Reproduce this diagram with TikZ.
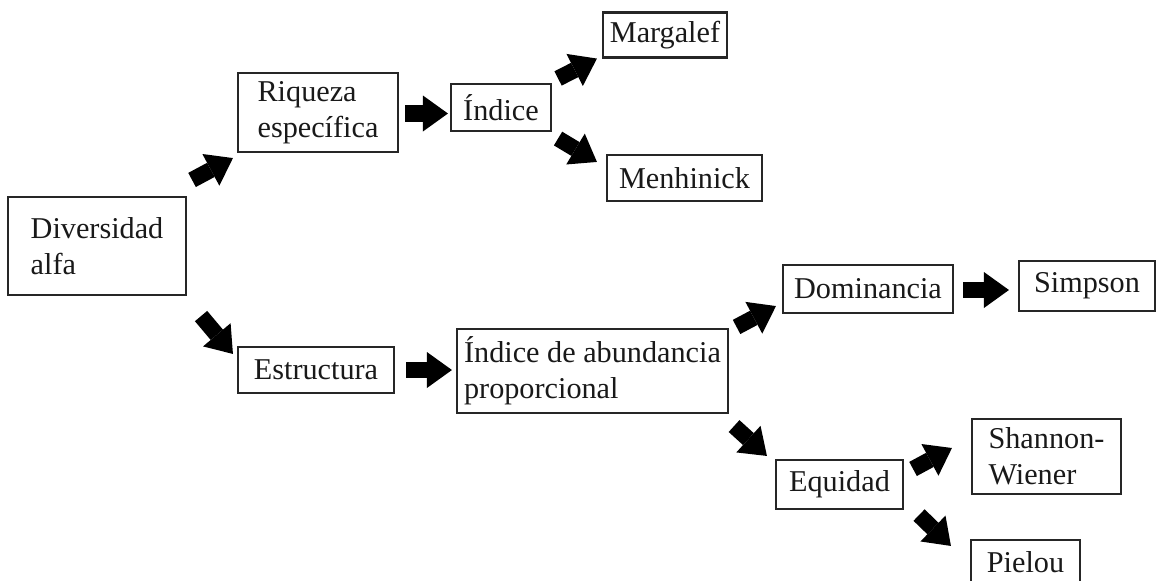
\documentclass[tikz,border=0pt]{standalone}
\usepackage{fontspec}
\setmainfont{Liberation Serif}
\usetikzlibrary{arrows.meta, calc}
\newcommand\bildbreite{1159}
\newcommand\bildhoehe{580}
\newcommand\pixel{0.025cm}

\begin{document}
\begin{tikzpicture}[x = \pixel, y = \pixel, yscale = -1,
	kasten/.style 2 args = {draw = black!85, line width = 1.5pt, inner sep = 2pt, align = left,
		text = black!90, font = \fontsize{21.5pt}{25.5pt}\selectfont,
		minimum width = #1*\pixel, minimum height = #2*\pixel},
	pfeil/.style = {line width = 11.4pt, -{Triangle[length = 17.8pt, width = 25.6pt, line width = 0pt]}}]
	\useasboundingbox (0, 0) rectangle (\bildbreite, \bildhoehe);

	% Kästen:
	\node [kasten = {178}{98}] (diversidad) at (97, 246) {Diversidad\\alfa};
	\node [kasten = {160}{79}] (riqueza) at (318, 112.5) {Riqueza\\específica};
	\node [kasten = {100}{47}] (indice) at (501, 107.5) {Índice};
	\node [kasten = {124}{45}] (margalef) at (665, 35) {Margalef};
	\node [kasten = {155}{46}] (menhinick) at (684.5, 178) {Menhinick};
	\node [kasten = {156}{46}] (estructura) at (316, 370) {Estructura};
	\node [kasten = {271}{84}] (abundancia) at (592.5, 371) {Índice de abundancia\\proporcional};
	\node [kasten = {170}{48}] (dominancia) at (868, 289) {Dominancia};
	\node [kasten = {136}{50}] (simpson) at (1087, 286) {Simpson};
	\node [kasten = {127}{49}] (equidad) at (839.5, 484.5) {Equidad};
	\node [kasten = {149}{75}] (shannon) at (1046.5, 456.5) {Shannon-\\Wiener};
	\node [kasten = {109}{44}] (pielou) at (1025.5, 562) {Pielou};

	% Pfeile, Versatz von Hand eingestellt
	\draw [pfeil] ($(diversidad.north east) + (5, -16)$) -- ($(riqueza.south west) + (-4, 5)$);
	\draw [pfeil] ($(diversidad.south east) + (14, 20)$) -- ($(estructura.north west) + (-4, 8)$);
	\draw [pfeil] ($(riqueza.east) + (6, 1)$) -- ($(riqueza.east -| indice.west) + (-2, 1)$);
	\draw [pfeil] ($(indice.north east) + (6, -4.5)$) -- ($(margalef.south west) + (-5, 0)$);
	\draw [pfeil] ($(indice.south east) + (6, 6.5)$) -- ($(menhinick.north west) + (-9, 8)$);
	\draw [pfeil] ($(estructura.east) + (11, 0)$) -- ($(estructura.east -| abundancia.west) + (-4, 0)$);
	\draw [pfeil] ($(abundancia.north east) + (7.5, -1)$) -- ($(dominancia.south west) + (-6, -8)$);
	\draw [pfeil] ($(abundancia.south east) + (5, 12)$) -- ($(equidad.north west) + (-8, -3)$);
	\draw [pfeil] ($(dominancia.east) + (9, 1)$) -- ($(dominancia.east -| simpson.west) + (-9, 1)$);
	\draw [pfeil] ($(equidad.north east) + (9, 10)$) -- ($(shannon.west) + (-19, -8.5)$);
	\draw [pfeil] ($(equidad.south east) + (15, 5)$) -- ($(pielou.north west) + (-19, 7)$);
\end{tikzpicture}
\end{document}
